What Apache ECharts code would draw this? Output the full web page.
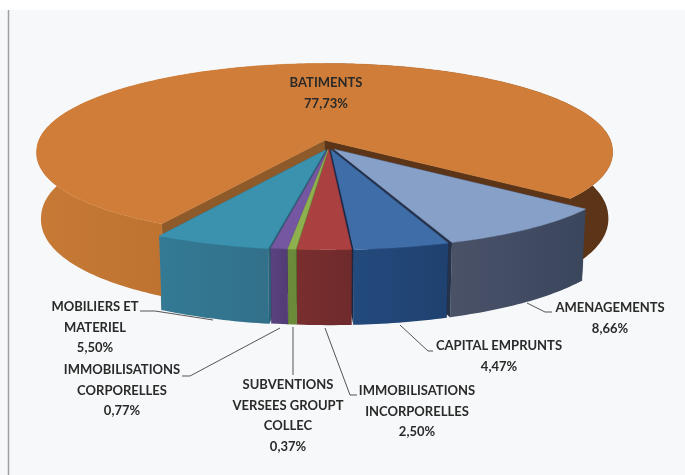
<!DOCTYPE html>
<html><head><meta charset="utf-8">
<style>html,body{margin:0;padding:0;background:#fff}#c{width:685px;height:475px}</style>
<script src="https://cdn.jsdelivr.net/npm/echarts@6/dist/echarts.min.js"></script>
</head><body><div id="c"></div>
<script>
// ---- data ----
const categories = ['AMENAGEMENTS','CAPITAL EMPRUNTS','IMMOBILISATIONS\nINCORPORELLES','SUBVENTIONS\nVERSEES GROUPT\nCOLLEC','IMMOBILISATIONS\nCORPORELLES','MOBILIERS ET\nMATERIEL','BATIMENTS'];
const values = [8.66,4.47,2.50,0.37,0.77,5.50,77.73];
const valueLabels = ['8,66%','4,47%','2,50%','0,37%','0,77%','5,50%','77,73%'];
// ---- styling / layout (not data) ----
const topColors  = ['#87A0C8','#3F6DA8','#AB4040','#8FB04F','#7457A0','#3A92AE','#CF7D38'];
const wallColors = [['#4A5268','#3A465C'],['#234A7C','#1F4170'],['#7A2E2E','#6E2A2C'],['#6B8A3A','#6B8A3A'],['#5A4280','#523C74'],['#337A94','#33708A'],['#C97A35','#5C3417']];
const faceColors = ['#26324A','#16294A','#5A2020','#55702C','#42305E','#2A6278','#5C3417'];
const explode = [0.03,0.03,0.03,0.03,0.03,0.035,0.08];
const drawOrder = [6,0,5,1,4,2,3];
const labelAt = [[610,308],[499,346],[417,391],[288,385],[122,370],[95,307],[326,83]];
const leaders = [
  [[552,312],[545,312],[527,303]],
  [[433,351],[428,351],[400,325]],
  [[357,395],[350,395],[325,328]],
  [[293,375],[293,327]],
  [[182,376],[190,376],[280,328]],
  [[140,311],[155,311],[213,320]],
  []
];
const P = {ax:329, ay:147, A:288.5, B:87.5, p:0.12, k:0.06, D:66, shrink:0.985, start:39};
const total = values.reduce((a,b)=>a+b,0);
const rad = d=>d*Math.PI/180;

function project(X,Y,low){
  const w = 1-P.p*Y;
  const s = (low ? P.shrink : 1)*(1+P.k*Math.pow(Math.max(0,Y),1.5));
  return [P.ax+P.A*X/w*s, P.ay+P.B*Y/w+(low?P.D/w:0)];
}
function sliceAngles(i){
  let c=0; for(let k=0;k<i;k++) c+=values[k];
  return [P.start+360*c/total, P.start+360*(c+values[i])/total];
}
function geometry(i){
  const [a0,a1] = sliceAngles(i);
  const m = rad((a0+a1)/2), e = explode[i];
  const ox=e*Math.cos(m), oy=e*Math.sin(m);
  const n = Math.max(2,Math.ceil(a1-a0));
  const top=[],low=[];
  for(let k=0;k<=n;k++){
    const t=rad(a0+(a1-a0)*k/n);
    top.push(project(ox+Math.cos(t),oy+Math.sin(t),false));
    low.push(project(ox+Math.cos(t),oy+Math.sin(t),true));
  }
  return {top,low,n,cT:project(ox,oy,false),cL:project(ox,oy,true)};
}
const poly=(pts,fill)=>({type:'polygon',silent:true,shape:{points:pts},style:{fill,stroke:typeof fill==='string'?fill:null,lineWidth:0.4}});
function renderFaces(params,api){
  const i=api.value(0), g=geometry(i);
  return {type:'group',children:[
    poly([g.cT,g.top[0],g.low[0],g.cL],i===6?'#8F5A2A':faceColors[i]),
    poly([g.cT,g.top[g.n],g.low[g.n],g.cL],faceColors[i])
  ]};
}
function renderWalls(params,api){
  const i=api.value(0), g=geometry(i);
  const grad = new echarts.graphic.LinearGradient(0,0,1,0,i===6?[
    {offset:0,color:'#C67A36'},{offset:0.25,color:'#BE7230'},
    {offset:0.5,color:'#BE7230'},{offset:0.5,color:'#5C3417'},{offset:1,color:'#5C3417'}]:[
    {offset:0,color:wallColors[i][0]},{offset:1,color:wallColors[i][1]}]);
  return poly(g.top.concat(g.low.slice().reverse()),grad);
}
function renderTops(params,api){
  const i=api.value(0), g=geometry(i);
  return poly([g.cT].concat(g.top),topColors[i]);
}
function renderLabel(params,api){
  const i = api.value(0);
  const kids=[];
  if(leaders[i].length) kids.push({type:'polyline',silent:true,shape:{points:leaders[i]},style:{stroke:'#555',lineWidth:1,fill:null}});
  const lines = categories[i].split('\n').concat(valueLabels[i]);
  lines.forEach((t,k)=>kids.push({type:'text',silent:true,style:{
    text:t,x:labelAt[i][0],y:labelAt[i][1]+k*20.5,align:'center',verticalAlign:'middle',
    font:'700 13px Lato',fill:'#2A2A2A'}}));
  return {type:'group',children:kids};
}
const sliceData = drawOrder.map(i=>[i]);
const chart = echarts.init(document.getElementById('c'),null,{renderer:'canvas'});
chart.setOption({
  animation:false,
  backgroundColor:'#ffffff',
  graphic:[
    {type:'rect',z:-1,silent:true,shape:{x:0,y:10,width:685,height:465},style:{fill:'#F7F8F9'}},
    {type:'line',z:-1,silent:true,shape:{x1:8.5,y1:10,x2:8.5,y2:475},style:{stroke:'#A0A0A0',lineWidth:1.5}}
  ],
  series:[
    {type:'custom',coordinateSystem:'none',silent:true,z:2,renderItem:renderFaces,data:sliceData},
    {type:'custom',coordinateSystem:'none',silent:true,z:3,renderItem:renderWalls,data:sliceData},
    {type:'custom',coordinateSystem:'none',silent:true,z:4,renderItem:renderTops,data:sliceData},
    {type:'custom',coordinateSystem:'none',silent:true,z:5,renderItem:renderLabel,data:categories.map((c,i)=>[i])}
  ]
});
</script></body></html>
